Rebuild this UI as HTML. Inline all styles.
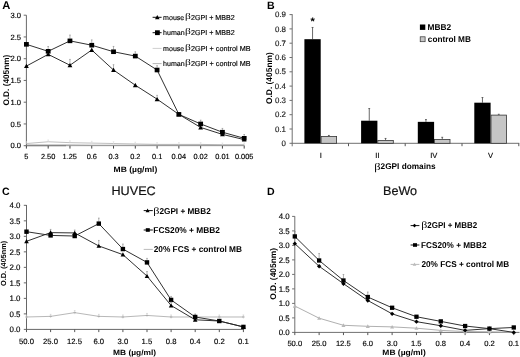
<!DOCTYPE html>
<html><head><meta charset="utf-8"><style>
html,body{margin:0;padding:0;background:#fff;width:520px;height:357px;overflow:hidden;}
svg{display:block;filter:blur(0.3px);}
</style></head><body>
<svg width="520" height="357" viewBox="0 0 520 357" text-rendering="geometricPrecision">
<rect width="520" height="357" fill="#fff"/>
<text x="2.26" y="8.80" font-size="11.20" font-weight="bold" fill="#000" font-family='"Liberation Sans", sans-serif' >A</text>
<line x1="26.40" y1="15.20" x2="26.40" y2="146.20" stroke="#6a6a6a" stroke-width="1"/>
<line x1="25.90" y1="145.70" x2="244.60" y2="145.70" stroke="#b4b4b4" stroke-width="1"/>
<line x1="25.90" y1="145.70" x2="66.00" y2="145.70" stroke="#707070" stroke-width="1"/>
<line x1="23.70" y1="145.70" x2="26.40" y2="145.70" stroke="#6a6a6a" stroke-width="1"/>
<text x="10.44" y="148.40" font-size="7.60" font-weight="normal" fill="#000" font-family='"Liberation Sans", sans-serif' stroke="#000" stroke-width="0.15" >0.0</text>
<line x1="23.70" y1="123.95" x2="26.40" y2="123.95" stroke="#6a6a6a" stroke-width="1"/>
<text x="10.44" y="126.65" font-size="7.60" font-weight="normal" fill="#000" font-family='"Liberation Sans", sans-serif' stroke="#000" stroke-width="0.15" >0.5</text>
<line x1="23.70" y1="102.20" x2="26.40" y2="102.20" stroke="#6a6a6a" stroke-width="1"/>
<text x="10.44" y="104.90" font-size="7.60" font-weight="normal" fill="#000" font-family='"Liberation Sans", sans-serif' stroke="#000" stroke-width="0.15" >1.0</text>
<line x1="23.70" y1="80.45" x2="26.40" y2="80.45" stroke="#6a6a6a" stroke-width="1"/>
<text x="10.44" y="83.15" font-size="7.60" font-weight="normal" fill="#000" font-family='"Liberation Sans", sans-serif' stroke="#000" stroke-width="0.15" >1.5</text>
<line x1="23.70" y1="58.70" x2="26.40" y2="58.70" stroke="#6a6a6a" stroke-width="1"/>
<text x="10.44" y="61.40" font-size="7.60" font-weight="normal" fill="#000" font-family='"Liberation Sans", sans-serif' stroke="#000" stroke-width="0.15" >2.0</text>
<line x1="23.70" y1="36.95" x2="26.40" y2="36.95" stroke="#6a6a6a" stroke-width="1"/>
<text x="10.44" y="39.65" font-size="7.60" font-weight="normal" fill="#000" font-family='"Liberation Sans", sans-serif' stroke="#000" stroke-width="0.15" >2.5</text>
<line x1="23.70" y1="15.20" x2="26.40" y2="15.20" stroke="#6a6a6a" stroke-width="1"/>
<text x="10.44" y="17.90" font-size="7.60" font-weight="normal" fill="#000" font-family='"Liberation Sans", sans-serif' stroke="#000" stroke-width="0.15" >3.0</text>
<line x1="26.40" y1="145.70" x2="26.40" y2="148.60" stroke="#444" stroke-width="1"/>
<text x="24.33" y="159.40" font-size="7.40" font-weight="normal" fill="#000" font-family='"Liberation Sans", sans-serif' stroke="#000" stroke-width="0.15" >5</text>
<line x1="48.18" y1="145.70" x2="48.18" y2="148.60" stroke="#444" stroke-width="1"/>
<text x="40.93" y="159.40" font-size="7.40" font-weight="normal" fill="#000" font-family='"Liberation Sans", sans-serif' stroke="#000" stroke-width="0.15" >2.50</text>
<line x1="69.96" y1="145.70" x2="69.96" y2="148.60" stroke="#444" stroke-width="1"/>
<text x="62.60" y="159.40" font-size="7.40" font-weight="normal" fill="#000" font-family='"Liberation Sans", sans-serif' stroke="#000" stroke-width="0.15" >1.25</text>
<line x1="91.74" y1="145.70" x2="91.74" y2="148.60" stroke="#444" stroke-width="1"/>
<text x="86.63" y="159.40" font-size="7.40" font-weight="normal" fill="#000" font-family='"Liberation Sans", sans-serif' stroke="#000" stroke-width="0.15" >0.6</text>
<line x1="113.52" y1="145.70" x2="113.52" y2="148.60" stroke="#444" stroke-width="1"/>
<text x="108.41" y="159.40" font-size="7.40" font-weight="normal" fill="#000" font-family='"Liberation Sans", sans-serif' stroke="#000" stroke-width="0.15" >0.3</text>
<line x1="135.30" y1="145.70" x2="135.30" y2="148.60" stroke="#444" stroke-width="1"/>
<text x="130.19" y="159.40" font-size="7.40" font-weight="normal" fill="#000" font-family='"Liberation Sans", sans-serif' stroke="#000" stroke-width="0.15" >0.2</text>
<line x1="157.08" y1="145.70" x2="157.08" y2="148.60" stroke="#444" stroke-width="1"/>
<text x="151.97" y="159.40" font-size="7.40" font-weight="normal" fill="#000" font-family='"Liberation Sans", sans-serif' stroke="#000" stroke-width="0.15" >0.1</text>
<line x1="178.86" y1="145.70" x2="178.86" y2="148.60" stroke="#444" stroke-width="1"/>
<text x="171.61" y="159.40" font-size="7.40" font-weight="normal" fill="#000" font-family='"Liberation Sans", sans-serif' stroke="#000" stroke-width="0.15" >0.04</text>
<line x1="200.64" y1="145.70" x2="200.64" y2="148.60" stroke="#444" stroke-width="1"/>
<text x="193.46" y="159.40" font-size="7.40" font-weight="normal" fill="#000" font-family='"Liberation Sans", sans-serif' stroke="#000" stroke-width="0.15" >0.02</text>
<line x1="222.42" y1="145.70" x2="222.42" y2="148.60" stroke="#444" stroke-width="1"/>
<text x="215.24" y="159.40" font-size="7.40" font-weight="normal" fill="#000" font-family='"Liberation Sans", sans-serif' stroke="#000" stroke-width="0.15" >0.01</text>
<line x1="244.20" y1="145.70" x2="244.20" y2="148.60" stroke="#444" stroke-width="1"/>
<text x="234.91" y="159.40" font-size="7.40" font-weight="normal" fill="#000" font-family='"Liberation Sans", sans-serif' stroke="#000" stroke-width="0.15" >0.005</text>
<text x="113.55" y="171.80" font-size="7.80" font-weight="bold" fill="#000" font-family='"Liberation Sans", sans-serif' textLength="43.73" lengthAdjust="spacingAndGlyphs">MB (µg/ml)</text>
<text transform="translate(8.80,80.20) rotate(-90)" x="-25.43" y="0" font-size="8.20" font-weight="bold" fill="#000" font-family='"Liberation Sans", sans-serif' textLength="51.01" lengthAdjust="spacingAndGlyphs">O.D. (405nm)</text>
<polyline points="26.40,143.52 48.18,141.78 69.96,142.66 91.74,143.09 113.52,143.52 135.30,143.96 157.08,144.39 178.86,144.39 200.64,144.39 222.42,144.83 244.20,144.83" fill="none" stroke="#c0c0c0" stroke-width="1" stroke-linejoin="round"/>
<polyline points="26.40,145.05 48.18,145.05 69.96,145.05 91.74,145.26 113.52,145.26 135.30,145.26 157.08,145.26 178.86,145.26 200.64,145.26 222.42,145.26 244.20,145.26" fill="none" stroke="#8a8a8a" stroke-width="0.9" stroke-linejoin="round"/>
<line x1="26.40" y1="143.52" x2="26.40" y2="141.72" stroke="#d6d6d6" stroke-width="0.6"/>
<line x1="25.60" y1="141.72" x2="27.20" y2="141.72" stroke="#d6d6d6" stroke-width="0.6"/>
<line x1="48.18" y1="141.78" x2="48.18" y2="139.98" stroke="#d6d6d6" stroke-width="0.6"/>
<line x1="47.38" y1="139.98" x2="48.98" y2="139.98" stroke="#d6d6d6" stroke-width="0.6"/>
<line x1="69.96" y1="142.66" x2="69.96" y2="140.85" stroke="#d6d6d6" stroke-width="0.6"/>
<line x1="69.16" y1="140.85" x2="70.76" y2="140.85" stroke="#d6d6d6" stroke-width="0.6"/>
<line x1="91.74" y1="143.09" x2="91.74" y2="141.29" stroke="#d6d6d6" stroke-width="0.6"/>
<line x1="90.94" y1="141.29" x2="92.54" y2="141.29" stroke="#d6d6d6" stroke-width="0.6"/>
<line x1="113.52" y1="143.52" x2="113.52" y2="141.72" stroke="#d6d6d6" stroke-width="0.6"/>
<line x1="112.72" y1="141.72" x2="114.32" y2="141.72" stroke="#d6d6d6" stroke-width="0.6"/>
<line x1="135.30" y1="143.96" x2="135.30" y2="142.16" stroke="#d6d6d6" stroke-width="0.6"/>
<line x1="134.50" y1="142.16" x2="136.10" y2="142.16" stroke="#d6d6d6" stroke-width="0.6"/>
<line x1="157.08" y1="144.39" x2="157.08" y2="142.59" stroke="#d6d6d6" stroke-width="0.6"/>
<line x1="156.28" y1="142.59" x2="157.88" y2="142.59" stroke="#d6d6d6" stroke-width="0.6"/>
<line x1="178.86" y1="144.39" x2="178.86" y2="142.59" stroke="#d6d6d6" stroke-width="0.6"/>
<line x1="178.06" y1="142.59" x2="179.66" y2="142.59" stroke="#d6d6d6" stroke-width="0.6"/>
<line x1="200.64" y1="144.39" x2="200.64" y2="142.59" stroke="#d6d6d6" stroke-width="0.6"/>
<line x1="199.84" y1="142.59" x2="201.44" y2="142.59" stroke="#d6d6d6" stroke-width="0.6"/>
<line x1="222.42" y1="144.83" x2="222.42" y2="143.03" stroke="#d6d6d6" stroke-width="0.6"/>
<line x1="221.62" y1="143.03" x2="223.22" y2="143.03" stroke="#d6d6d6" stroke-width="0.6"/>
<line x1="244.20" y1="144.83" x2="244.20" y2="143.03" stroke="#d6d6d6" stroke-width="0.6"/>
<line x1="243.40" y1="143.03" x2="245.00" y2="143.03" stroke="#d6d6d6" stroke-width="0.6"/>
<polyline points="26.40,66.09 48.18,54.35 69.96,65.22 91.74,50.00 113.52,70.01 135.30,85.23 157.08,99.15 178.86,114.38 200.64,127.43 222.42,134.39 244.20,139.61" fill="none" stroke="#262626" stroke-width="0.95" stroke-linejoin="round"/>
<polyline points="26.40,44.34 48.18,51.30 69.96,40.86 91.74,45.21 113.52,51.74 135.30,56.09 157.08,70.01 178.86,114.38 200.64,123.95 222.42,132.21 244.20,138.30" fill="none" stroke="#262626" stroke-width="0.95" stroke-linejoin="round"/>
<rect x="24.00" y="42.04" width="4.8" height="4.6" fill="#000"/>
<line x1="48.18" y1="49.00" x2="48.18" y2="46.50" stroke="#808080" stroke-width="0.6"/>
<line x1="47.38" y1="46.50" x2="48.98" y2="46.50" stroke="#808080" stroke-width="0.6"/>
<rect x="45.78" y="49.00" width="4.8" height="4.6" fill="#000"/>
<line x1="69.96" y1="38.56" x2="69.96" y2="35.06" stroke="#808080" stroke-width="0.6"/>
<line x1="69.16" y1="35.06" x2="70.76" y2="35.06" stroke="#808080" stroke-width="0.6"/>
<rect x="67.56" y="38.56" width="4.8" height="4.6" fill="#000"/>
<line x1="91.74" y1="42.91" x2="91.74" y2="39.91" stroke="#808080" stroke-width="0.6"/>
<line x1="90.94" y1="39.91" x2="92.54" y2="39.91" stroke="#808080" stroke-width="0.6"/>
<rect x="89.34" y="42.91" width="4.8" height="4.6" fill="#000"/>
<line x1="113.52" y1="49.44" x2="113.52" y2="46.44" stroke="#808080" stroke-width="0.6"/>
<line x1="112.72" y1="46.44" x2="114.32" y2="46.44" stroke="#808080" stroke-width="0.6"/>
<rect x="111.12" y="49.44" width="4.8" height="4.6" fill="#000"/>
<line x1="135.30" y1="53.79" x2="135.30" y2="51.79" stroke="#808080" stroke-width="0.6"/>
<line x1="134.50" y1="51.79" x2="136.10" y2="51.79" stroke="#808080" stroke-width="0.6"/>
<rect x="132.90" y="53.79" width="4.8" height="4.6" fill="#000"/>
<line x1="157.08" y1="67.71" x2="157.08" y2="65.71" stroke="#808080" stroke-width="0.6"/>
<line x1="156.28" y1="65.71" x2="157.88" y2="65.71" stroke="#808080" stroke-width="0.6"/>
<rect x="154.68" y="67.71" width="4.8" height="4.6" fill="#000"/>
<rect x="176.46" y="112.08" width="4.8" height="4.6" fill="#000"/>
<line x1="200.64" y1="121.65" x2="200.64" y2="120.15" stroke="#808080" stroke-width="0.6"/>
<line x1="199.84" y1="120.15" x2="201.44" y2="120.15" stroke="#808080" stroke-width="0.6"/>
<rect x="198.24" y="121.65" width="4.8" height="4.6" fill="#000"/>
<line x1="222.42" y1="129.91" x2="222.42" y2="128.41" stroke="#808080" stroke-width="0.6"/>
<line x1="221.62" y1="128.41" x2="223.22" y2="128.41" stroke="#808080" stroke-width="0.6"/>
<rect x="220.02" y="129.91" width="4.8" height="4.6" fill="#000"/>
<line x1="244.20" y1="136.00" x2="244.20" y2="134.50" stroke="#808080" stroke-width="0.6"/>
<line x1="243.40" y1="134.50" x2="245.00" y2="134.50" stroke="#808080" stroke-width="0.6"/>
<rect x="241.80" y="136.00" width="4.8" height="4.6" fill="#000"/>
<polygon points="26.40,63.67 28.80,68.07 24.00,68.07" fill="#000"/>
<polygon points="48.18,51.93 50.58,56.33 45.78,56.33" fill="#000"/>
<line x1="69.96" y1="62.92" x2="69.96" y2="59.42" stroke="#808080" stroke-width="0.6"/>
<line x1="69.16" y1="59.42" x2="70.76" y2="59.42" stroke="#808080" stroke-width="0.6"/>
<polygon points="69.96,62.80 72.36,67.20 67.56,67.20" fill="#000"/>
<polygon points="91.74,47.58 94.14,51.98 89.34,51.98" fill="#000"/>
<line x1="113.52" y1="67.71" x2="113.52" y2="64.71" stroke="#808080" stroke-width="0.6"/>
<line x1="112.72" y1="64.71" x2="114.32" y2="64.71" stroke="#808080" stroke-width="0.6"/>
<polygon points="113.52,67.59 115.92,71.99 111.12,71.99" fill="#000"/>
<polygon points="135.30,82.81 137.70,87.21 132.90,87.21" fill="#000"/>
<line x1="157.08" y1="96.85" x2="157.08" y2="95.35" stroke="#808080" stroke-width="0.6"/>
<line x1="156.28" y1="95.35" x2="157.88" y2="95.35" stroke="#808080" stroke-width="0.6"/>
<polygon points="157.08,96.73 159.48,101.13 154.68,101.13" fill="#000"/>
<polygon points="178.86,111.96 181.26,116.36 176.46,116.36" fill="#000"/>
<polygon points="200.64,125.01 203.04,129.41 198.24,129.41" fill="#000"/>
<polygon points="222.42,131.97 224.82,136.37 220.02,136.37" fill="#000"/>
<polygon points="244.20,137.19 246.60,141.59 241.80,141.59" fill="#000"/>
<line x1="152.60" y1="17.30" x2="161.60" y2="17.30" stroke="#111" stroke-width="1"/>
<polygon points="157.30,14.99 159.60,19.19 155.00,19.19" fill="#000"/>
<text x="163.11" y="19.80" font-size="7.05" font-weight="normal" fill="#000" font-family='"Liberation Sans", sans-serif' stroke="#000" stroke-width="0.15" >mouse</text>
<text transform="translate(185.70,18.90) scale(1.333,1)" x="-0.52" y="0" font-size="8.60" fill="#000" font-family='"Liberation Serif", serif'>β</text>
<text x="190.94" y="19.80" font-size="7.20" font-weight="normal" fill="#000" font-family='"Liberation Sans", sans-serif' stroke="#000" stroke-width="0.15" textLength="43.85" lengthAdjust="spacingAndGlyphs">2GPI + MBB2</text>
<line x1="152.60" y1="32.70" x2="161.60" y2="32.70" stroke="#111" stroke-width="1"/>
<rect x="155.00" y="30.30" width="4.8" height="4.8" fill="#000"/>
<text x="163.11" y="35.20" font-size="7.05" font-weight="normal" fill="#000" font-family='"Liberation Sans", sans-serif' stroke="#000" stroke-width="0.15" >human</text>
<text transform="translate(185.70,34.30) scale(1.333,1)" x="-0.52" y="0" font-size="8.60" fill="#000" font-family='"Liberation Serif", serif'>β</text>
<text x="190.94" y="35.20" font-size="7.20" font-weight="normal" fill="#000" font-family='"Liberation Sans", sans-serif' stroke="#000" stroke-width="0.15" textLength="43.85" lengthAdjust="spacingAndGlyphs">2GPI + MBB2</text>
<line x1="152.60" y1="48.40" x2="161.60" y2="48.40" stroke="#cfcfcf" stroke-width="1"/>
<text x="163.11" y="50.90" font-size="7.05" font-weight="normal" fill="#000" font-family='"Liberation Sans", sans-serif' stroke="#000" stroke-width="0.15" >mouse</text>
<text transform="translate(185.70,50.00) scale(1.333,1)" x="-0.52" y="0" font-size="8.60" fill="#000" font-family='"Liberation Serif", serif'>β</text>
<text x="190.94" y="50.90" font-size="7.20" font-weight="normal" fill="#000" font-family='"Liberation Sans", sans-serif' stroke="#000" stroke-width="0.15" textLength="59.61" lengthAdjust="spacingAndGlyphs">2GPI + control MB</text>
<line x1="152.60" y1="63.60" x2="161.60" y2="63.60" stroke="#b5b5b5" stroke-width="1"/>
<text x="163.11" y="66.10" font-size="7.05" font-weight="normal" fill="#000" font-family='"Liberation Sans", sans-serif' stroke="#000" stroke-width="0.15" >human</text>
<text transform="translate(185.70,65.20) scale(1.333,1)" x="-0.52" y="0" font-size="8.60" fill="#000" font-family='"Liberation Serif", serif'>β</text>
<text x="190.94" y="66.10" font-size="7.20" font-weight="normal" fill="#000" font-family='"Liberation Sans", sans-serif' stroke="#000" stroke-width="0.15" textLength="59.61" lengthAdjust="spacingAndGlyphs">2GPI + control MB</text>
<text x="267.06" y="8.70" font-size="10.60" font-weight="bold" fill="#000" font-family='"Liberation Sans", sans-serif' >B</text>
<line x1="292.20" y1="14.20" x2="292.20" y2="146.30" stroke="#707070" stroke-width="1"/>
<line x1="291.70" y1="143.30" x2="519.30" y2="143.30" stroke="#707070" stroke-width="1"/>
<line x1="289.50" y1="143.30" x2="292.20" y2="143.30" stroke="#707070" stroke-width="1"/>
<text x="281.49" y="145.90" font-size="7.90" font-weight="normal" fill="#2a2a2a" font-family='"Liberation Sans", sans-serif' stroke="#000" stroke-width="0.15" >0</text>
<line x1="289.50" y1="129.00" x2="292.20" y2="129.00" stroke="#707070" stroke-width="1"/>
<text x="275.01" y="131.60" font-size="7.90" font-weight="normal" fill="#2a2a2a" font-family='"Liberation Sans", sans-serif' stroke="#000" stroke-width="0.15" >0.1</text>
<line x1="289.50" y1="114.70" x2="292.20" y2="114.70" stroke="#707070" stroke-width="1"/>
<text x="275.01" y="117.30" font-size="7.90" font-weight="normal" fill="#2a2a2a" font-family='"Liberation Sans", sans-serif' stroke="#000" stroke-width="0.15" >0.2</text>
<line x1="289.50" y1="100.40" x2="292.20" y2="100.40" stroke="#707070" stroke-width="1"/>
<text x="275.01" y="103.00" font-size="7.90" font-weight="normal" fill="#2a2a2a" font-family='"Liberation Sans", sans-serif' stroke="#000" stroke-width="0.15" >0.3</text>
<line x1="289.50" y1="86.10" x2="292.20" y2="86.10" stroke="#707070" stroke-width="1"/>
<text x="274.86" y="88.70" font-size="7.90" font-weight="normal" fill="#2a2a2a" font-family='"Liberation Sans", sans-serif' stroke="#000" stroke-width="0.15" >0.4</text>
<line x1="289.50" y1="71.80" x2="292.20" y2="71.80" stroke="#707070" stroke-width="1"/>
<text x="274.94" y="74.40" font-size="7.90" font-weight="normal" fill="#2a2a2a" font-family='"Liberation Sans", sans-serif' stroke="#000" stroke-width="0.15" >0.5</text>
<line x1="289.50" y1="57.50" x2="292.20" y2="57.50" stroke="#707070" stroke-width="1"/>
<text x="275.01" y="60.10" font-size="7.90" font-weight="normal" fill="#2a2a2a" font-family='"Liberation Sans", sans-serif' stroke="#000" stroke-width="0.15" >0.6</text>
<line x1="289.50" y1="43.20" x2="292.20" y2="43.20" stroke="#707070" stroke-width="1"/>
<text x="275.01" y="45.80" font-size="7.90" font-weight="normal" fill="#2a2a2a" font-family='"Liberation Sans", sans-serif' stroke="#000" stroke-width="0.15" >0.7</text>
<line x1="289.50" y1="28.90" x2="292.20" y2="28.90" stroke="#707070" stroke-width="1"/>
<text x="275.01" y="31.50" font-size="7.90" font-weight="normal" fill="#2a2a2a" font-family='"Liberation Sans", sans-serif' stroke="#000" stroke-width="0.15" >0.8</text>
<line x1="289.50" y1="14.60" x2="292.20" y2="14.60" stroke="#707070" stroke-width="1"/>
<text x="275.01" y="17.20" font-size="7.90" font-weight="normal" fill="#2a2a2a" font-family='"Liberation Sans", sans-serif' stroke="#000" stroke-width="0.15" >0.9</text>
<line x1="348.50" y1="143.30" x2="348.50" y2="146.20" stroke="#555" stroke-width="1"/>
<line x1="405.20" y1="143.30" x2="405.20" y2="146.20" stroke="#555" stroke-width="1"/>
<line x1="462.00" y1="143.30" x2="462.00" y2="146.20" stroke="#555" stroke-width="1"/>
<line x1="518.80" y1="143.30" x2="518.80" y2="146.20" stroke="#555" stroke-width="1"/>
<line x1="312.55" y1="39.20" x2="312.55" y2="27.47" stroke="#444" stroke-width="0.8"/>
<line x1="311.65" y1="27.47" x2="313.45" y2="27.47" stroke="#444" stroke-width="0.8"/>
<line x1="328.85" y1="136.15" x2="328.85" y2="135.44" stroke="#444" stroke-width="0.8"/>
<line x1="327.95" y1="135.44" x2="329.75" y2="135.44" stroke="#444" stroke-width="0.8"/>
<rect x="304.40" y="39.20" width="16.3" height="104.10" fill="#000"/>
<rect x="321.10" y="136.55" width="15.5" height="6.75" fill="#c6c6c6" stroke="#333" stroke-width="0.8"/>
<line x1="369.25" y1="120.71" x2="369.25" y2="108.55" stroke="#444" stroke-width="0.8"/>
<line x1="368.35" y1="108.55" x2="370.15" y2="108.55" stroke="#444" stroke-width="0.8"/>
<line x1="385.55" y1="140.15" x2="385.55" y2="138.44" stroke="#444" stroke-width="0.8"/>
<line x1="384.65" y1="138.44" x2="386.45" y2="138.44" stroke="#444" stroke-width="0.8"/>
<rect x="361.10" y="120.71" width="16.3" height="22.59" fill="#000"/>
<rect x="377.80" y="140.55" width="15.5" height="2.75" fill="#c6c6c6" stroke="#333" stroke-width="0.8"/>
<line x1="425.95" y1="121.85" x2="425.95" y2="119.56" stroke="#444" stroke-width="0.8"/>
<line x1="425.05" y1="119.56" x2="426.85" y2="119.56" stroke="#444" stroke-width="0.8"/>
<line x1="442.25" y1="139.15" x2="442.25" y2="137.29" stroke="#444" stroke-width="0.8"/>
<line x1="441.35" y1="137.29" x2="443.15" y2="137.29" stroke="#444" stroke-width="0.8"/>
<rect x="417.80" y="121.85" width="16.3" height="21.45" fill="#000"/>
<rect x="434.50" y="139.55" width="15.5" height="3.75" fill="#c6c6c6" stroke="#333" stroke-width="0.8"/>
<line x1="482.45" y1="102.69" x2="482.45" y2="97.54" stroke="#444" stroke-width="0.8"/>
<line x1="481.55" y1="97.54" x2="483.35" y2="97.54" stroke="#444" stroke-width="0.8"/>
<line x1="498.75" y1="114.70" x2="498.75" y2="114.27" stroke="#444" stroke-width="0.8"/>
<line x1="497.85" y1="114.27" x2="499.65" y2="114.27" stroke="#444" stroke-width="0.8"/>
<rect x="474.30" y="102.69" width="16.3" height="40.61" fill="#000"/>
<rect x="491.00" y="115.10" width="15.5" height="28.20" fill="#c6c6c6" stroke="#333" stroke-width="0.8"/>
<text x="310.56" y="24.60" font-size="11.00" font-weight="bold" fill="#000" font-family='"Liberation Sans", sans-serif' >*</text>
<text x="319.64" y="158.20" font-size="7.60" font-weight="normal" fill="#000" font-family='"Liberation Sans", sans-serif' stroke="#000" stroke-width="0.15" >I</text>
<text x="375.27" y="158.20" font-size="7.60" font-weight="normal" fill="#000" font-family='"Liberation Sans", sans-serif' stroke="#000" stroke-width="0.15" >II</text>
<text x="430.19" y="158.20" font-size="7.60" font-weight="normal" fill="#000" font-family='"Liberation Sans", sans-serif' stroke="#000" stroke-width="0.15" >IV</text>
<text x="488.05" y="158.20" font-size="7.60" font-weight="normal" fill="#000" font-family='"Liberation Sans", sans-serif' stroke="#000" stroke-width="0.15" >V</text>
<text transform="translate(374.90,169.90) scale(1.232,1)" x="-0.61" y="0" font-size="10.10" fill="#000" font-family='"Liberation Serif", serif'>β</text>
<text x="380.55" y="169.00" font-size="8.30" font-weight="bold" fill="#000" font-family='"Liberation Sans", sans-serif' textLength="55.06" lengthAdjust="spacingAndGlyphs">2GPI domains</text>
<text transform="translate(272.30,78.20) rotate(-90)" x="-25.84" y="0" font-size="8.30" font-weight="bold" fill="#000" font-family='"Liberation Sans", sans-serif' textLength="51.82" lengthAdjust="spacingAndGlyphs">O.D. (405nm)</text>
<rect x="419.9" y="24.5" width="5.4" height="5.4" fill="#000"/>
<rect x="420.2" y="36.8" width="4.9" height="4.9" fill="#c6c6c6" stroke="#333" stroke-width="0.7"/>
<text x="427.61" y="29.90" font-size="8.40" font-weight="bold" fill="#000" font-family='"Liberation Sans", sans-serif' textLength="23.66" lengthAdjust="spacingAndGlyphs">MBB2</text>
<text x="427.86" y="41.90" font-size="8.40" font-weight="bold" fill="#000" font-family='"Liberation Sans", sans-serif' textLength="43.07" lengthAdjust="spacingAndGlyphs">control MB</text>
<text x="1.88" y="194.60" font-size="10.60" font-weight="bold" fill="#000" font-family='"Liberation Sans", sans-serif' >C</text>
<text x="111.50" y="195.00" font-size="12.50" font-weight="normal" fill="#111" font-family='"Liberation Sans", sans-serif' stroke="#111" stroke-width="0.2" textLength="44.22" lengthAdjust="spacingAndGlyphs">HUVEC</text>
<line x1="26.50" y1="205.00" x2="26.50" y2="329.90" stroke="#666" stroke-width="1"/>
<line x1="26.00" y1="329.40" x2="244.00" y2="329.40" stroke="#666" stroke-width="1"/>
<line x1="23.80" y1="329.40" x2="26.50" y2="329.40" stroke="#666" stroke-width="1"/>
<text x="9.53" y="332.20" font-size="7.90" font-weight="normal" fill="#000" font-family='"Liberation Sans", sans-serif' stroke="#000" stroke-width="0.15" >0.0</text>
<line x1="23.80" y1="313.89" x2="26.50" y2="313.89" stroke="#666" stroke-width="1"/>
<text x="9.53" y="316.69" font-size="7.90" font-weight="normal" fill="#000" font-family='"Liberation Sans", sans-serif' stroke="#000" stroke-width="0.15" >0.5</text>
<line x1="23.80" y1="298.38" x2="26.50" y2="298.38" stroke="#666" stroke-width="1"/>
<text x="9.53" y="301.18" font-size="7.90" font-weight="normal" fill="#000" font-family='"Liberation Sans", sans-serif' stroke="#000" stroke-width="0.15" >1.0</text>
<line x1="23.80" y1="282.87" x2="26.50" y2="282.87" stroke="#666" stroke-width="1"/>
<text x="9.53" y="285.67" font-size="7.90" font-weight="normal" fill="#000" font-family='"Liberation Sans", sans-serif' stroke="#000" stroke-width="0.15" >1.5</text>
<line x1="23.80" y1="267.36" x2="26.50" y2="267.36" stroke="#666" stroke-width="1"/>
<text x="9.53" y="270.16" font-size="7.90" font-weight="normal" fill="#000" font-family='"Liberation Sans", sans-serif' stroke="#000" stroke-width="0.15" >2.0</text>
<line x1="23.80" y1="251.85" x2="26.50" y2="251.85" stroke="#666" stroke-width="1"/>
<text x="9.53" y="254.65" font-size="7.90" font-weight="normal" fill="#000" font-family='"Liberation Sans", sans-serif' stroke="#000" stroke-width="0.15" >2.5</text>
<line x1="23.80" y1="236.34" x2="26.50" y2="236.34" stroke="#666" stroke-width="1"/>
<text x="9.53" y="239.14" font-size="7.90" font-weight="normal" fill="#000" font-family='"Liberation Sans", sans-serif' stroke="#000" stroke-width="0.15" >3.0</text>
<line x1="23.80" y1="220.83" x2="26.50" y2="220.83" stroke="#666" stroke-width="1"/>
<text x="9.53" y="223.63" font-size="7.90" font-weight="normal" fill="#000" font-family='"Liberation Sans", sans-serif' stroke="#000" stroke-width="0.15" >3.5</text>
<line x1="23.80" y1="205.32" x2="26.50" y2="205.32" stroke="#666" stroke-width="1"/>
<text x="9.53" y="208.12" font-size="7.90" font-weight="normal" fill="#000" font-family='"Liberation Sans", sans-serif' stroke="#000" stroke-width="0.15" >4.0</text>
<line x1="26.50" y1="329.40" x2="26.50" y2="332.10" stroke="#555" stroke-width="1"/>
<text x="18.99" y="343.90" font-size="7.70" font-weight="normal" fill="#000" font-family='"Liberation Sans", sans-serif' stroke="#000" stroke-width="0.15" >50.0</text>
<line x1="50.60" y1="329.40" x2="50.60" y2="332.10" stroke="#555" stroke-width="1"/>
<text x="43.05" y="343.90" font-size="7.70" font-weight="normal" fill="#000" font-family='"Liberation Sans", sans-serif' stroke="#000" stroke-width="0.15" >25.0</text>
<line x1="74.70" y1="329.40" x2="74.70" y2="332.10" stroke="#555" stroke-width="1"/>
<text x="67.04" y="343.90" font-size="7.70" font-weight="normal" fill="#000" font-family='"Liberation Sans", sans-serif' stroke="#000" stroke-width="0.15" >12.5</text>
<line x1="98.80" y1="329.40" x2="98.80" y2="332.10" stroke="#555" stroke-width="1"/>
<text x="93.41" y="343.90" font-size="7.70" font-weight="normal" fill="#000" font-family='"Liberation Sans", sans-serif' stroke="#000" stroke-width="0.15" >6.0</text>
<line x1="122.90" y1="329.40" x2="122.90" y2="332.10" stroke="#555" stroke-width="1"/>
<text x="117.55" y="343.90" font-size="7.70" font-weight="normal" fill="#000" font-family='"Liberation Sans", sans-serif' stroke="#000" stroke-width="0.15" >3.0</text>
<line x1="147.00" y1="329.40" x2="147.00" y2="332.10" stroke="#555" stroke-width="1"/>
<text x="141.49" y="343.90" font-size="7.70" font-weight="normal" fill="#000" font-family='"Liberation Sans", sans-serif' stroke="#000" stroke-width="0.15" >1.5</text>
<line x1="171.10" y1="329.40" x2="171.10" y2="332.10" stroke="#555" stroke-width="1"/>
<text x="165.79" y="343.90" font-size="7.70" font-weight="normal" fill="#000" font-family='"Liberation Sans", sans-serif' stroke="#000" stroke-width="0.15" >0.8</text>
<line x1="195.20" y1="329.40" x2="195.20" y2="332.10" stroke="#555" stroke-width="1"/>
<text x="189.81" y="343.90" font-size="7.70" font-weight="normal" fill="#000" font-family='"Liberation Sans", sans-serif' stroke="#000" stroke-width="0.15" >0.4</text>
<line x1="219.30" y1="329.40" x2="219.30" y2="332.10" stroke="#555" stroke-width="1"/>
<text x="213.99" y="343.90" font-size="7.70" font-weight="normal" fill="#000" font-family='"Liberation Sans", sans-serif' stroke="#000" stroke-width="0.15" >0.2</text>
<line x1="243.40" y1="329.40" x2="243.40" y2="332.10" stroke="#555" stroke-width="1"/>
<text x="238.09" y="343.90" font-size="7.70" font-weight="normal" fill="#000" font-family='"Liberation Sans", sans-serif' stroke="#000" stroke-width="0.15" >0.1</text>
<text x="113.07" y="354.60" font-size="7.50" font-weight="bold" fill="#000" font-family='"Liberation Sans", sans-serif' textLength="43.01" lengthAdjust="spacingAndGlyphs">MB (µg/ml)</text>
<text transform="translate(6.20,263.40) rotate(-90)" x="-22.49" y="0" font-size="7.40" font-weight="bold" fill="#000" font-family='"Liberation Sans", sans-serif' textLength="45.11" lengthAdjust="spacingAndGlyphs">O.D. (405nm)</text>
<polyline points="26.50,316.99 50.60,316.37 74.70,312.65 98.80,316.37 122.90,316.99 147.00,315.44 171.10,316.99 195.20,316.99 219.30,316.99 243.40,316.99" fill="none" stroke="#b8b8b8" stroke-width="1" stroke-linejoin="round"/>
<line x1="26.50" y1="318.49" x2="26.50" y2="314.99" stroke="#c4c4c4" stroke-width="0.6"/>
<line x1="25.70" y1="314.99" x2="27.30" y2="314.99" stroke="#c4c4c4" stroke-width="0.6"/>
<line x1="25.30" y1="316.99" x2="27.70" y2="316.99" stroke="#aaa" stroke-width="1"/>
<line x1="50.60" y1="317.87" x2="50.60" y2="314.37" stroke="#c4c4c4" stroke-width="0.6"/>
<line x1="49.80" y1="314.37" x2="51.40" y2="314.37" stroke="#c4c4c4" stroke-width="0.6"/>
<line x1="49.40" y1="316.37" x2="51.80" y2="316.37" stroke="#aaa" stroke-width="1"/>
<line x1="74.70" y1="314.15" x2="74.70" y2="310.65" stroke="#c4c4c4" stroke-width="0.6"/>
<line x1="73.90" y1="310.65" x2="75.50" y2="310.65" stroke="#c4c4c4" stroke-width="0.6"/>
<line x1="73.50" y1="312.65" x2="75.90" y2="312.65" stroke="#aaa" stroke-width="1"/>
<line x1="98.80" y1="317.87" x2="98.80" y2="314.37" stroke="#c4c4c4" stroke-width="0.6"/>
<line x1="98.00" y1="314.37" x2="99.60" y2="314.37" stroke="#c4c4c4" stroke-width="0.6"/>
<line x1="97.60" y1="316.37" x2="100.00" y2="316.37" stroke="#aaa" stroke-width="1"/>
<line x1="122.90" y1="318.49" x2="122.90" y2="314.99" stroke="#c4c4c4" stroke-width="0.6"/>
<line x1="122.10" y1="314.99" x2="123.70" y2="314.99" stroke="#c4c4c4" stroke-width="0.6"/>
<line x1="121.70" y1="316.99" x2="124.10" y2="316.99" stroke="#aaa" stroke-width="1"/>
<line x1="147.00" y1="316.94" x2="147.00" y2="313.44" stroke="#c4c4c4" stroke-width="0.6"/>
<line x1="146.20" y1="313.44" x2="147.80" y2="313.44" stroke="#c4c4c4" stroke-width="0.6"/>
<line x1="145.80" y1="315.44" x2="148.20" y2="315.44" stroke="#aaa" stroke-width="1"/>
<line x1="171.10" y1="318.49" x2="171.10" y2="314.99" stroke="#c4c4c4" stroke-width="0.6"/>
<line x1="170.30" y1="314.99" x2="171.90" y2="314.99" stroke="#c4c4c4" stroke-width="0.6"/>
<line x1="169.90" y1="316.99" x2="172.30" y2="316.99" stroke="#aaa" stroke-width="1"/>
<line x1="195.20" y1="318.49" x2="195.20" y2="314.99" stroke="#c4c4c4" stroke-width="0.6"/>
<line x1="194.40" y1="314.99" x2="196.00" y2="314.99" stroke="#c4c4c4" stroke-width="0.6"/>
<line x1="194.00" y1="316.99" x2="196.40" y2="316.99" stroke="#aaa" stroke-width="1"/>
<line x1="219.30" y1="318.49" x2="219.30" y2="314.99" stroke="#c4c4c4" stroke-width="0.6"/>
<line x1="218.50" y1="314.99" x2="220.10" y2="314.99" stroke="#c4c4c4" stroke-width="0.6"/>
<line x1="218.10" y1="316.99" x2="220.50" y2="316.99" stroke="#aaa" stroke-width="1"/>
<line x1="243.40" y1="318.49" x2="243.40" y2="314.99" stroke="#c4c4c4" stroke-width="0.6"/>
<line x1="242.60" y1="314.99" x2="244.20" y2="314.99" stroke="#c4c4c4" stroke-width="0.6"/>
<line x1="242.20" y1="316.99" x2="244.60" y2="316.99" stroke="#aaa" stroke-width="1"/>
<polyline points="26.50,241.30 50.60,232.62 74.70,232.93 98.80,245.96 122.90,254.64 147.00,276.05 171.10,305.51 195.20,319.78 219.30,321.02 243.40,326.92" fill="none" stroke="#262626" stroke-width="0.95" stroke-linejoin="round"/>
<polyline points="26.50,231.69 50.60,235.41 74.70,236.03 98.80,223.62 122.90,249.06 147.00,262.40 171.10,299.93 195.20,316.99 219.30,321.02 243.40,326.92" fill="none" stroke="#262626" stroke-width="0.95" stroke-linejoin="round"/>
<rect x="24.30" y="229.49" width="4.4" height="4.4" fill="#000"/>
<line x1="50.60" y1="233.41" x2="50.60" y2="229.41" stroke="#808080" stroke-width="0.6"/>
<line x1="49.80" y1="229.41" x2="51.40" y2="229.41" stroke="#808080" stroke-width="0.6"/>
<rect x="48.40" y="233.21" width="4.4" height="4.4" fill="#000"/>
<line x1="74.70" y1="234.03" x2="74.70" y2="230.03" stroke="#808080" stroke-width="0.6"/>
<line x1="73.90" y1="230.03" x2="75.50" y2="230.03" stroke="#808080" stroke-width="0.6"/>
<rect x="72.50" y="233.83" width="4.4" height="4.4" fill="#000"/>
<line x1="98.80" y1="221.62" x2="98.80" y2="218.12" stroke="#808080" stroke-width="0.6"/>
<line x1="98.00" y1="218.12" x2="99.60" y2="218.12" stroke="#808080" stroke-width="0.6"/>
<rect x="96.60" y="221.42" width="4.4" height="4.4" fill="#000"/>
<line x1="122.90" y1="247.06" x2="122.90" y2="244.06" stroke="#808080" stroke-width="0.6"/>
<line x1="122.10" y1="244.06" x2="123.70" y2="244.06" stroke="#808080" stroke-width="0.6"/>
<rect x="120.70" y="246.86" width="4.4" height="4.4" fill="#000"/>
<line x1="147.00" y1="260.40" x2="147.00" y2="258.40" stroke="#808080" stroke-width="0.6"/>
<line x1="146.20" y1="258.40" x2="147.80" y2="258.40" stroke="#808080" stroke-width="0.6"/>
<rect x="144.80" y="260.20" width="4.4" height="4.4" fill="#000"/>
<line x1="171.10" y1="297.93" x2="171.10" y2="296.43" stroke="#808080" stroke-width="0.6"/>
<line x1="170.30" y1="296.43" x2="171.90" y2="296.43" stroke="#808080" stroke-width="0.6"/>
<rect x="168.90" y="297.73" width="4.4" height="4.4" fill="#000"/>
<line x1="195.20" y1="314.99" x2="195.20" y2="313.99" stroke="#808080" stroke-width="0.6"/>
<line x1="194.40" y1="313.99" x2="196.00" y2="313.99" stroke="#808080" stroke-width="0.6"/>
<rect x="193.00" y="314.79" width="4.4" height="4.4" fill="#000"/>
<rect x="217.10" y="318.82" width="4.4" height="4.4" fill="#000"/>
<rect x="241.20" y="324.72" width="4.4" height="4.4" fill="#000"/>
<polygon points="26.50,239.03 28.80,243.17 24.20,243.17" fill="#000"/>
<polygon points="50.60,230.34 52.90,234.48 48.30,234.48" fill="#000"/>
<polygon points="74.70,230.65 77.00,234.79 72.40,234.79" fill="#000"/>
<line x1="98.80" y1="243.96" x2="98.80" y2="240.46" stroke="#808080" stroke-width="0.6"/>
<line x1="98.00" y1="240.46" x2="99.60" y2="240.46" stroke="#808080" stroke-width="0.6"/>
<polygon points="98.80,243.68 101.10,247.82 96.50,247.82" fill="#000"/>
<polygon points="122.90,252.36 125.20,256.50 120.60,256.50" fill="#000"/>
<line x1="147.00" y1="274.05" x2="147.00" y2="271.55" stroke="#808080" stroke-width="0.6"/>
<line x1="146.20" y1="271.55" x2="147.80" y2="271.55" stroke="#808080" stroke-width="0.6"/>
<polygon points="147.00,273.77 149.30,277.91 144.70,277.91" fill="#000"/>
<line x1="171.10" y1="303.51" x2="171.10" y2="302.01" stroke="#808080" stroke-width="0.6"/>
<line x1="170.30" y1="302.01" x2="171.90" y2="302.01" stroke="#808080" stroke-width="0.6"/>
<polygon points="171.10,303.24 173.40,307.38 168.80,307.38" fill="#000"/>
<polygon points="195.20,317.51 197.50,321.65 192.90,321.65" fill="#000"/>
<polygon points="219.30,318.75 221.60,322.89 217.00,322.89" fill="#000"/>
<polygon points="243.40,324.64 245.70,328.78 241.10,328.78" fill="#000"/>
<line x1="143.70" y1="210.60" x2="152.80" y2="210.60" stroke="#111" stroke-width="1"/>
<polygon points="147.60,208.62 149.60,212.22 145.60,212.22" fill="#000"/>
<line x1="143.70" y1="230.00" x2="152.80" y2="230.00" stroke="#111" stroke-width="1"/>
<rect x="145.80" y="228.20" width="4" height="3.6" fill="#000"/>
<line x1="143.70" y1="249.40" x2="152.80" y2="249.40" stroke="#bbb" stroke-width="1"/>
<text transform="translate(153.90,213.80) scale(1.270,1)" x="-0.58" y="0" font-size="9.60" fill="#000" font-family='"Liberation Serif", serif'>β</text>
<text x="159.44" y="213.90" font-size="8.50" font-weight="bold" fill="#000" font-family='"Liberation Sans", sans-serif' textLength="51.31" lengthAdjust="spacingAndGlyphs">2GPI + MBB2</text>
<text x="153.31" y="232.90" font-size="8.50" font-weight="bold" fill="#000" font-family='"Liberation Sans", sans-serif' textLength="66.67" lengthAdjust="spacingAndGlyphs">FCS20% + MBB2</text>
<text x="153.65" y="252.30" font-size="8.50" font-weight="bold" fill="#000" font-family='"Liberation Sans", sans-serif' textLength="88.38" lengthAdjust="spacingAndGlyphs">20% FCS + control MB</text>
<text x="266.96" y="194.60" font-size="10.60" font-weight="bold" fill="#000" font-family='"Liberation Sans", sans-serif' >D</text>
<text x="383.00" y="195.00" font-size="12.50" font-weight="normal" fill="#111" font-family='"Liberation Sans", sans-serif' stroke="#111" stroke-width="0.2" textLength="34.15" lengthAdjust="spacingAndGlyphs">BeWo</text>
<line x1="294.80" y1="216.20" x2="294.80" y2="332.90" stroke="#707070" stroke-width="1"/>
<line x1="294.30" y1="332.40" x2="519.50" y2="332.40" stroke="#707070" stroke-width="1"/>
<line x1="292.10" y1="332.40" x2="294.80" y2="332.40" stroke="#707070" stroke-width="1"/>
<text x="278.63" y="335.20" font-size="7.90" font-weight="normal" fill="#000" font-family='"Liberation Sans", sans-serif' stroke="#000" stroke-width="0.15" >0.0</text>
<line x1="292.10" y1="317.90" x2="294.80" y2="317.90" stroke="#707070" stroke-width="1"/>
<text x="278.63" y="320.70" font-size="7.90" font-weight="normal" fill="#000" font-family='"Liberation Sans", sans-serif' stroke="#000" stroke-width="0.15" >0.5</text>
<line x1="292.10" y1="303.40" x2="294.80" y2="303.40" stroke="#707070" stroke-width="1"/>
<text x="278.63" y="306.20" font-size="7.90" font-weight="normal" fill="#000" font-family='"Liberation Sans", sans-serif' stroke="#000" stroke-width="0.15" >1.0</text>
<line x1="292.10" y1="288.90" x2="294.80" y2="288.90" stroke="#707070" stroke-width="1"/>
<text x="278.63" y="291.70" font-size="7.90" font-weight="normal" fill="#000" font-family='"Liberation Sans", sans-serif' stroke="#000" stroke-width="0.15" >1.5</text>
<line x1="292.10" y1="274.40" x2="294.80" y2="274.40" stroke="#707070" stroke-width="1"/>
<text x="278.63" y="277.20" font-size="7.90" font-weight="normal" fill="#000" font-family='"Liberation Sans", sans-serif' stroke="#000" stroke-width="0.15" >2.0</text>
<line x1="292.10" y1="259.90" x2="294.80" y2="259.90" stroke="#707070" stroke-width="1"/>
<text x="278.63" y="262.70" font-size="7.90" font-weight="normal" fill="#000" font-family='"Liberation Sans", sans-serif' stroke="#000" stroke-width="0.15" >2.5</text>
<line x1="292.10" y1="245.40" x2="294.80" y2="245.40" stroke="#707070" stroke-width="1"/>
<text x="278.63" y="248.20" font-size="7.90" font-weight="normal" fill="#000" font-family='"Liberation Sans", sans-serif' stroke="#000" stroke-width="0.15" >3.0</text>
<line x1="292.10" y1="230.90" x2="294.80" y2="230.90" stroke="#707070" stroke-width="1"/>
<text x="278.63" y="233.70" font-size="7.90" font-weight="normal" fill="#000" font-family='"Liberation Sans", sans-serif' stroke="#000" stroke-width="0.15" >3.5</text>
<line x1="292.10" y1="216.40" x2="294.80" y2="216.40" stroke="#707070" stroke-width="1"/>
<text x="278.63" y="219.20" font-size="7.90" font-weight="normal" fill="#000" font-family='"Liberation Sans", sans-serif' stroke="#000" stroke-width="0.15" >4.0</text>
<line x1="294.80" y1="332.40" x2="294.80" y2="335.10" stroke="#555" stroke-width="1"/>
<text x="287.39" y="346.40" font-size="7.60" font-weight="normal" fill="#000" font-family='"Liberation Sans", sans-serif' stroke="#000" stroke-width="0.15" >50.0</text>
<line x1="319.13" y1="332.40" x2="319.13" y2="335.10" stroke="#555" stroke-width="1"/>
<text x="311.68" y="346.40" font-size="7.60" font-weight="normal" fill="#000" font-family='"Liberation Sans", sans-serif' stroke="#000" stroke-width="0.15" >25.0</text>
<line x1="343.46" y1="332.40" x2="343.46" y2="335.10" stroke="#555" stroke-width="1"/>
<text x="335.90" y="346.40" font-size="7.60" font-weight="normal" fill="#000" font-family='"Liberation Sans", sans-serif' stroke="#000" stroke-width="0.15" >12.5</text>
<line x1="367.79" y1="332.40" x2="367.79" y2="335.10" stroke="#555" stroke-width="1"/>
<text x="362.47" y="346.40" font-size="7.60" font-weight="normal" fill="#000" font-family='"Liberation Sans", sans-serif' stroke="#000" stroke-width="0.15" >6.0</text>
<line x1="392.12" y1="332.40" x2="392.12" y2="335.10" stroke="#555" stroke-width="1"/>
<text x="386.84" y="346.40" font-size="7.60" font-weight="normal" fill="#000" font-family='"Liberation Sans", sans-serif' stroke="#000" stroke-width="0.15" >3.0</text>
<line x1="416.45" y1="332.40" x2="416.45" y2="335.10" stroke="#555" stroke-width="1"/>
<text x="411.02" y="346.40" font-size="7.60" font-weight="normal" fill="#000" font-family='"Liberation Sans", sans-serif' stroke="#000" stroke-width="0.15" >1.5</text>
<line x1="440.78" y1="332.40" x2="440.78" y2="335.10" stroke="#555" stroke-width="1"/>
<text x="435.54" y="346.40" font-size="7.60" font-weight="normal" fill="#000" font-family='"Liberation Sans", sans-serif' stroke="#000" stroke-width="0.15" >0.8</text>
<line x1="465.11" y1="332.40" x2="465.11" y2="335.10" stroke="#555" stroke-width="1"/>
<text x="459.79" y="346.40" font-size="7.60" font-weight="normal" fill="#000" font-family='"Liberation Sans", sans-serif' stroke="#000" stroke-width="0.15" >0.4</text>
<line x1="489.44" y1="332.40" x2="489.44" y2="335.10" stroke="#555" stroke-width="1"/>
<text x="484.20" y="346.40" font-size="7.60" font-weight="normal" fill="#000" font-family='"Liberation Sans", sans-serif' stroke="#000" stroke-width="0.15" >0.2</text>
<line x1="513.77" y1="332.40" x2="513.77" y2="335.10" stroke="#555" stroke-width="1"/>
<text x="508.53" y="346.40" font-size="7.60" font-weight="normal" fill="#000" font-family='"Liberation Sans", sans-serif' stroke="#000" stroke-width="0.15" >0.1</text>
<text x="382.35" y="355.00" font-size="7.80" font-weight="bold" fill="#000" font-family='"Liberation Sans", sans-serif' textLength="43.42" lengthAdjust="spacingAndGlyphs">MB (µg/ml)</text>
<text transform="translate(276.20,273.90) rotate(-90)" x="-25.94" y="0" font-size="8.30" font-weight="bold" fill="#000" font-family='"Liberation Sans", sans-serif' textLength="52.02" lengthAdjust="spacingAndGlyphs">O.D. (405nm)</text>
<polyline points="294.80,306.01 319.13,318.19 343.46,325.29 367.79,326.31 392.12,326.89 416.45,328.19 440.78,330.37 465.11,331.53 489.44,331.82 513.77,332.40" fill="none" stroke="#b0b0b0" stroke-width="1" stroke-linejoin="round"/>
<polygon points="294.80,304.03 296.80,307.63 292.80,307.63" fill="#b8b8b8"/>
<polygon points="319.13,316.21 321.13,319.81 317.13,319.81" fill="#b8b8b8"/>
<polygon points="343.46,323.31 345.46,326.91 341.46,326.91" fill="#b8b8b8"/>
<polygon points="367.79,324.33 369.79,327.93 365.79,327.93" fill="#b8b8b8"/>
<polygon points="392.12,324.91 394.12,328.51 390.12,328.51" fill="#b8b8b8"/>
<polygon points="416.45,326.21 418.45,329.81 414.45,329.81" fill="#b8b8b8"/>
<polygon points="440.78,328.39 442.78,331.99 438.78,331.99" fill="#b8b8b8"/>
<polygon points="465.11,329.55 467.11,333.15 463.11,333.15" fill="#b8b8b8"/>
<polygon points="489.44,329.84 491.44,333.44 487.44,333.44" fill="#b8b8b8"/>
<polygon points="513.77,330.42 515.77,334.02 511.77,334.02" fill="#b8b8b8"/>
<polyline points="294.80,243.66 319.13,266.28 343.46,283.68 367.79,300.50 392.12,313.84 416.45,321.67 440.78,325.73 465.11,330.37 489.44,328.63 513.77,332.40" fill="none" stroke="#262626" stroke-width="0.95" stroke-linejoin="round"/>
<polyline points="294.80,236.41 319.13,260.48 343.46,280.49 367.79,297.02 392.12,307.75 416.45,316.74 440.78,321.38 465.11,326.02 489.44,328.63 513.77,327.47" fill="none" stroke="#262626" stroke-width="0.95" stroke-linejoin="round"/>
<line x1="294.80" y1="234.41" x2="294.80" y2="231.41" stroke="#808080" stroke-width="0.6"/>
<line x1="294.00" y1="231.41" x2="295.60" y2="231.41" stroke="#808080" stroke-width="0.6"/>
<rect x="292.65" y="234.26" width="4.3" height="4.3" fill="#000"/>
<line x1="319.13" y1="258.48" x2="319.13" y2="253.48" stroke="#808080" stroke-width="0.6"/>
<line x1="318.33" y1="253.48" x2="319.93" y2="253.48" stroke="#808080" stroke-width="0.6"/>
<rect x="316.98" y="258.33" width="4.3" height="4.3" fill="#000"/>
<line x1="343.46" y1="278.49" x2="343.46" y2="274.49" stroke="#808080" stroke-width="0.6"/>
<line x1="342.66" y1="274.49" x2="344.26" y2="274.49" stroke="#808080" stroke-width="0.6"/>
<rect x="341.31" y="278.34" width="4.3" height="4.3" fill="#000"/>
<line x1="367.79" y1="295.02" x2="367.79" y2="292.02" stroke="#808080" stroke-width="0.6"/>
<line x1="366.99" y1="292.02" x2="368.59" y2="292.02" stroke="#808080" stroke-width="0.6"/>
<rect x="365.64" y="294.87" width="4.3" height="4.3" fill="#000"/>
<rect x="389.97" y="305.60" width="4.3" height="4.3" fill="#000"/>
<rect x="414.30" y="314.59" width="4.3" height="4.3" fill="#000"/>
<rect x="438.63" y="319.23" width="4.3" height="4.3" fill="#000"/>
<rect x="462.96" y="323.87" width="4.3" height="4.3" fill="#000"/>
<rect x="487.29" y="326.48" width="4.3" height="4.3" fill="#000"/>
<rect x="511.62" y="325.32" width="4.3" height="4.3" fill="#000"/>
<polygon points="294.80,241.46 297.00,243.66 294.80,245.86 292.60,243.66" fill="#000"/>
<polygon points="319.13,264.08 321.33,266.28 319.13,268.48 316.93,266.28" fill="#000"/>
<polygon points="343.46,281.48 345.66,283.68 343.46,285.88 341.26,283.68" fill="#000"/>
<polygon points="367.79,298.30 369.99,300.50 367.79,302.70 365.59,300.50" fill="#000"/>
<polygon points="392.12,311.64 394.32,313.84 392.12,316.04 389.92,313.84" fill="#000"/>
<polygon points="416.45,319.47 418.65,321.67 416.45,323.87 414.25,321.67" fill="#000"/>
<polygon points="440.78,323.53 442.98,325.73 440.78,327.93 438.58,325.73" fill="#000"/>
<polygon points="465.11,328.17 467.31,330.37 465.11,332.57 462.91,330.37" fill="#000"/>
<polygon points="489.44,326.43 491.64,328.63 489.44,330.83 487.24,328.63" fill="#000"/>
<polygon points="513.77,330.20 515.97,332.40 513.77,334.60 511.57,332.40" fill="#000"/>
<line x1="410.60" y1="225.60" x2="419.40" y2="225.60" stroke="#111" stroke-width="1"/>
<polygon points="414.50,223.80 416.30,225.60 414.50,227.40 412.70,225.60" fill="#000"/>
<line x1="410.60" y1="245.00" x2="419.40" y2="245.00" stroke="#111" stroke-width="1"/>
<rect x="413.00" y="243.20" width="4" height="3.6" fill="#000"/>
<line x1="410.60" y1="264.40" x2="419.40" y2="264.40" stroke="#bbb" stroke-width="1"/>
<polygon points="414.50,262.62 416.30,265.86 412.70,265.86" fill="#bbb"/>
<text transform="translate(421.90,228.30) scale(1.245,1)" x="-0.58" y="0" font-size="9.60" fill="#000" font-family='"Liberation Serif", serif'>β</text>
<text x="427.35" y="228.40" font-size="8.50" font-weight="bold" fill="#000" font-family='"Liberation Sans", sans-serif' textLength="49.89" lengthAdjust="spacingAndGlyphs">2GPI + MBB2</text>
<text x="421.10" y="247.80" font-size="8.50" font-weight="bold" fill="#000" font-family='"Liberation Sans", sans-serif' textLength="65.36" lengthAdjust="spacingAndGlyphs">FCS20% + MBB2</text>
<text x="421.44" y="267.20" font-size="8.50" font-weight="bold" fill="#000" font-family='"Liberation Sans", sans-serif' textLength="87.68" lengthAdjust="spacingAndGlyphs">20% FCS + control MB</text>
</svg>
</body></html>
